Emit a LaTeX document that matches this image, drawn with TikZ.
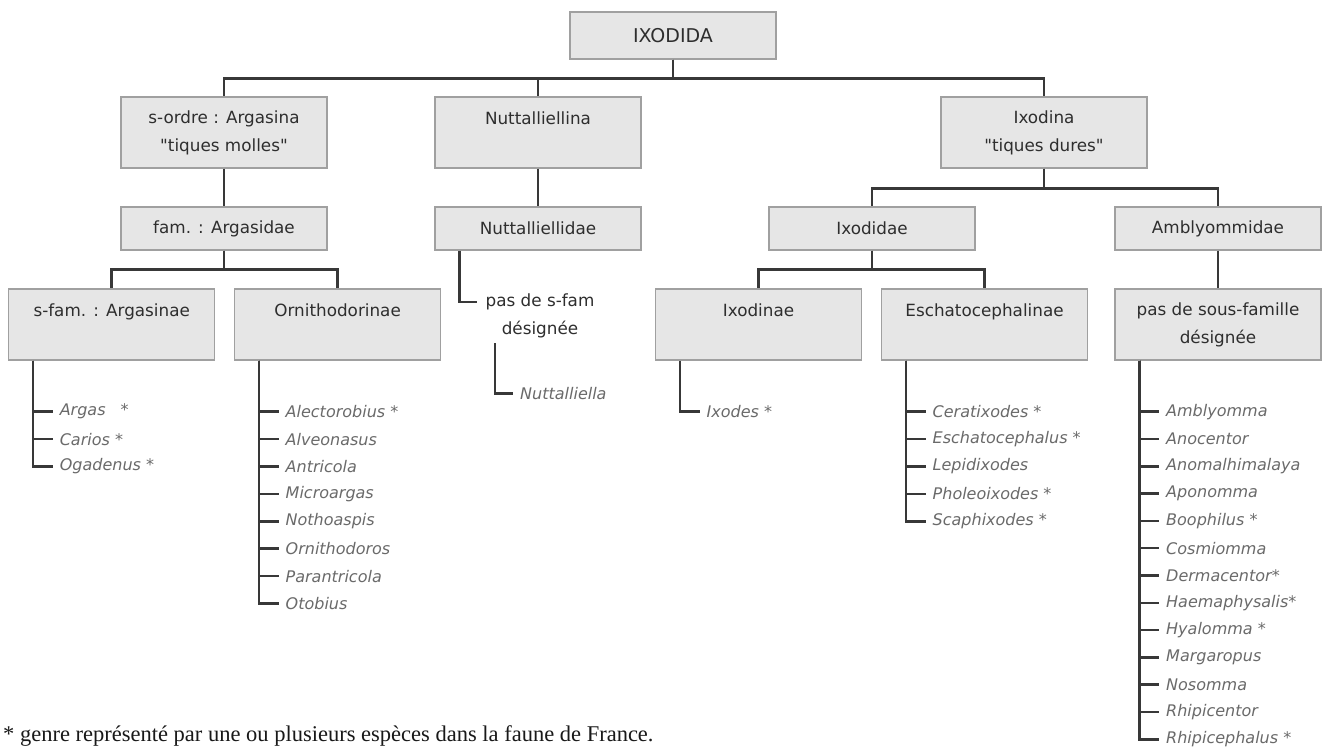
\documentclass[tikz,border=0pt]{standalone}
\usepackage{fontspec}
\setmainfont{DejaVu Sans}
\newfontfamily\notefont{Liberation Serif}
\usetikzlibrary{positioning}

\definecolor{boxfill}{HTML}{E6E6E6}
\definecolor{boxline}{HTML}{A0A0A0}
\definecolor{linkgray}{HTML}{383838}
\definecolor{textgray}{HTML}{2E2E2E}
\definecolor{genusgray}{HTML}{6A6A6A}

\begin{document}
\begin{tikzpicture}[x=1pt, y=-1pt,
    taxon/.style={draw=boxline, line width=1.3pt, fill=boxfill, minimum width=206pt,
        inner sep=0pt, align=center, text=textgray, font=\fontsize{16.8}{28}\selectfont},
    tall/.style={taxon, minimum height=71pt},
    flat/.style={taxon, minimum height=43pt},
    genus/.style={anchor=west, inner xsep=7pt, inner ysep=1pt, text=genusgray,
        font=\fontsize{16}{19}\selectfont\itshape},
    link/.style={draw=linkgray, line width=2.5pt}]

    % Page frame
    \path[use as bounding box, fill=white] (0,0) rectangle (1328,747);

    % Order
    \node[flat, minimum height=47pt, font=\fontsize{19}{22}\selectfont] (ixodida) at (673,35.5) {IXODIDA};

    % Sub-orders
    \node[tall] (argasina) at (224,132.5) {s-ordre : Argasina\\\textquotedbl tiques molles\textquotedbl};
    \node[tall] (nuttalliellina) at (538,132.5) {Nuttalliellina\\\mbox{}};
    \node[tall] (ixodina) at (1044,132.5) {Ixodina\\\textquotedbl tiques dures\textquotedbl};

    % Families
    \node[flat] (argasidae) at (224,228.5) {fam. : Argasidae};
    \node[flat] (nuttalliellidae) at (538,228.5) {Nuttalliellidae};
    \node[flat] (ixodidae) at (872,228.5) {Ixodidae};
    \node[flat] (amblyommidae) at (1218,228.5) {Amblyommidae};

    % Sub-families
    \node[tall] (argasinae) at (111.7,324.5) {s-fam. : Argasinae\\\mbox{}};
    \node[tall] (ornithodorinae) at (337.6,324.5) {Ornithodorinae\\\mbox{}};
    \node[tall] (ixodinae) at (758.5,324.5) {Ixodinae\\\mbox{}};
    \node[tall] (eschato) at (984.5,324.5) {Eschatocephalinae\\\mbox{}};
    \node[tall] (nosubfamily) at (1218,324.5) {pas de sous-famille\\désignée};
    \node[align=center, inner sep=0pt, text=textgray, font=\fontsize{16.8}{28}\selectfont]
        (nosubfam) at (540,316) {pas de s-fam\\désignée};

    % Tree connectors
    \foreach \child in {argasina, nuttalliellina, ixodina}
        \draw[link] (ixodida.south) -- ++(0,19) -| (\child.north);
    \draw[link] (argasina.south) -- (argasidae.north);
    \draw[link] (nuttalliellina.south) -- (nuttalliellidae.north);
    \foreach \child in {ixodidae, amblyommidae}
        \draw[link] (ixodina.south) -- ++(0,20) -| (\child.north);
    \foreach \child in {argasinae, ornithodorinae}
        \draw[link] (argasidae.south) -- ++(0,19) -| (\child.north);
    \foreach \child in {ixodinae, eschato}
        \draw[link] (ixodidae.south) -- ++(0,19) -| (\child.north);
    \draw[link] (amblyommidae.south) -- (nosubfamily.north);
    \draw[link] ([xshift=25pt]nuttalliellidae.south west) |- ([xshift=-8pt,yshift=14pt]nosubfam.west);

    % Genera
    \foreach \name [count=\i] in {Argas\hspace{15pt}*, Carios *, Ogadenus *} {
        \node[genus] (argasinae-\i) at (52.6,384.3+27.4*\i) {\name};
        \draw[link] ([xshift=25pt]argasinae.south west) |- (argasinae-\i.west);
    }
    \foreach \name [count=\i] in {Alectorobius *, Alveonasus, Antricola, Microargas,
            Nothoaspis, Ornithodoros, Parantricola, Otobius} {
        \node[genus] (ornithodorinae-\i) at (278.5,384.3+27.4*\i) {\name};
        \draw[link] ([xshift=25pt]ornithodorinae.south west) |- (ornithodorinae-\i.west);
    }
    \coordinate (nstem) at (495,343);
    \node[genus] (nuttalliella) at (513,393.5) {Nuttalliella};
    \draw[link] (nstem) |- (nuttalliella.west);
    \node[genus] (ixodes) at (699.5,411.7) {Ixodes *};
    \draw[link] ([xshift=25pt]ixodinae.south west) |- (ixodes.west);
    \foreach \name [count=\i] in {Ceratixodes *, Eschatocephalus *, Lepidixodes,
            Pholeoixodes *, Scaphixodes *} {
        \node[genus] (eschato-\i) at (925.5,384.3+27.4*\i) {\name};
        \draw[link] ([xshift=25pt]eschato.south west) |- (eschato-\i.west);
    }
    \foreach \name [count=\i] in {Amblyomma, Anocentor, Anomalhimalaya, Aponomma,
            Boophilus *, Cosmiomma, Dermacentor*, Haemaphysalis*, Hyalomma *,
            Margaropus, Nosomma, Rhipicentor, Rhipicephalus *} {
        \node[genus] (amblyommidae-\i) at (1159,384.4+27.3*\i) {\name};
        \draw[link] ([xshift=25pt]nosubfamily.south west) |- (amblyommidae-\i.west);
    }

    % Footnote
    \node[anchor=base west, inner sep=0pt, text=black!90, font=\notefont\fontsize{22.5}{26}\selectfont]
        (footnote) at (3,741) {* genre représenté par une ou plusieurs espèces dans la faune de France.};
\end{tikzpicture}
\end{document}
